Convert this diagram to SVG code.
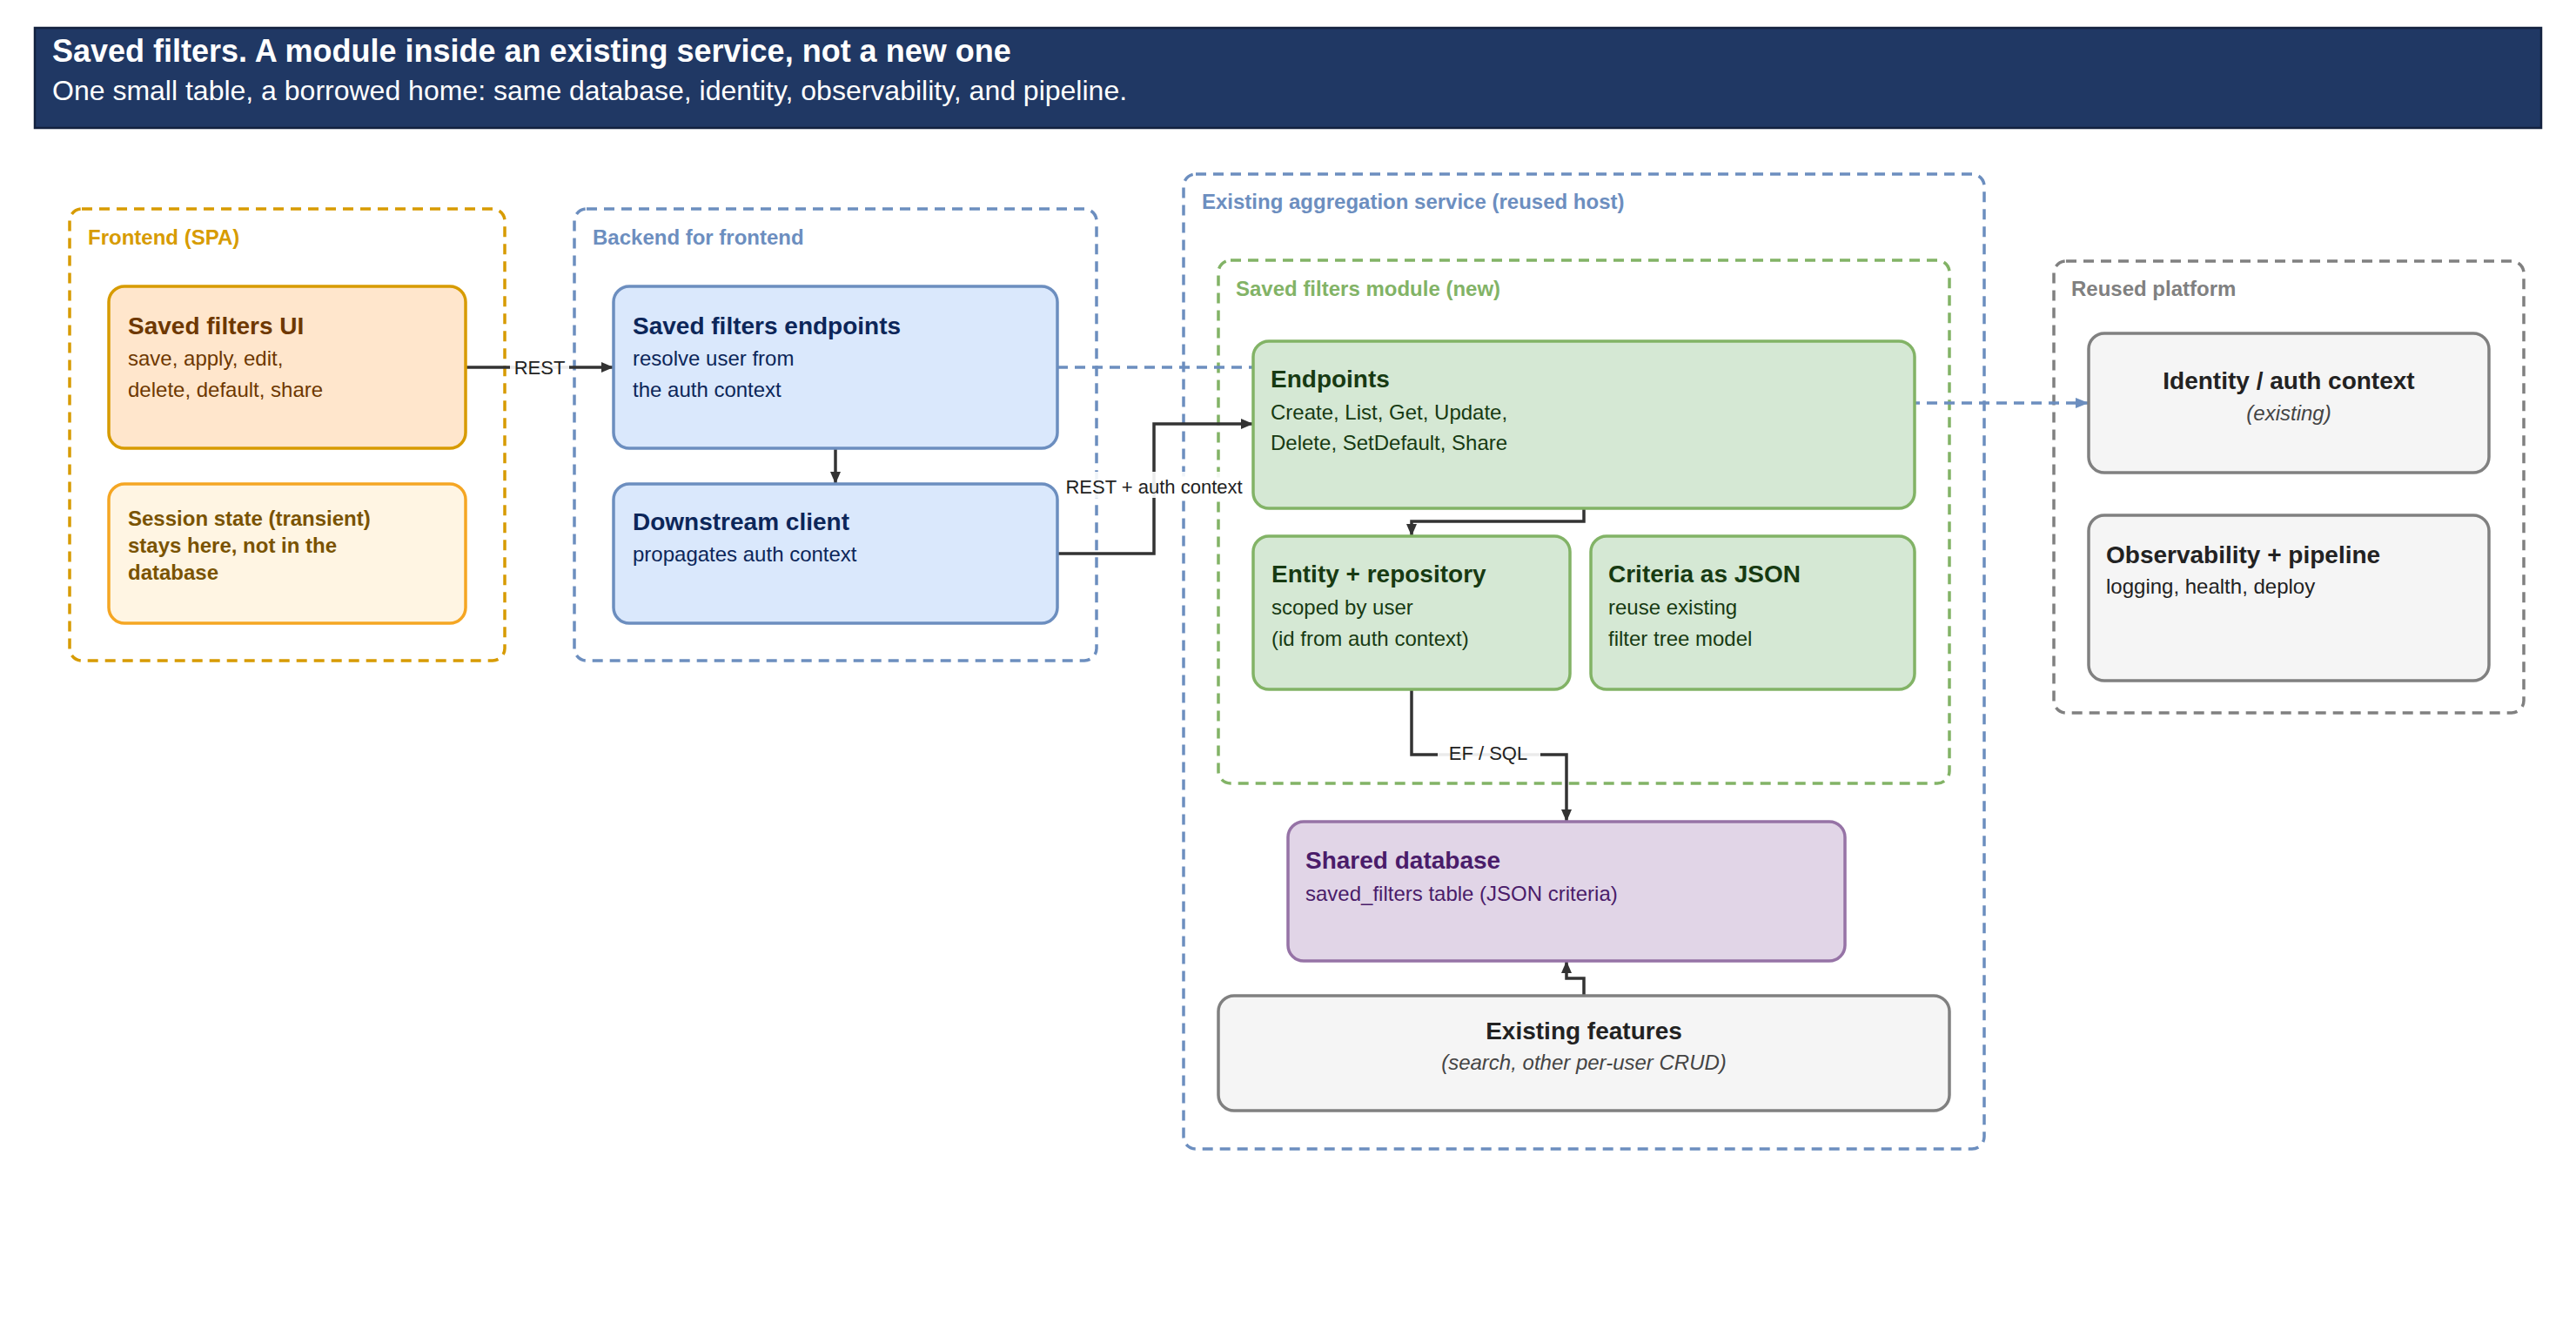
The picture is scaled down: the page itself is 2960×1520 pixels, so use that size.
<svg xmlns="http://www.w3.org/2000/svg" width="2960" height="1520" viewBox="0 0 2960 1520">
<defs>
<style>
text{font-family:"Liberation Sans",Arial,sans-serif}
.grp{fill:none;stroke-width:3.5;stroke-dasharray:12 8}
.glabel{font-size:24px;font-weight:bold}
.box{stroke-width:3.5}
.t{font-size:28px;font-weight:bold}
.b{font-size:24px}
.i{font-size:24px;font-style:italic}
.edge{fill:none;stroke:#333;stroke-width:3.5}
.dedge{fill:none;stroke:#6c8ebf;stroke-width:3.5;stroke-dasharray:12 8}
.elabel{font-size:22px;fill:#222}
.lbg{fill:#fff;fill-opacity:0.9}
</style>
<marker id="ah" viewBox="0 0 14 12" refX="14" refY="6" markerWidth="14" markerHeight="12" markerUnits="userSpaceOnUse" orient="auto"><path d="M0,0 L14,6 L0,12 z" fill="#333"/></marker>
<marker id="ahb" viewBox="0 0 15 12" refX="15" refY="6" markerWidth="15" markerHeight="12" markerUnits="userSpaceOnUse" orient="auto"><path d="M0,0 L15,6 L0,12 z" fill="#6c8ebf"/></marker>
</defs>
<rect width="2960" height="1520" fill="#fff"/>
<g id="banner">
<rect x="40" y="32" width="2880" height="115" fill="#203864" stroke="#13213f" stroke-width="2.5"/>
<text x="60" y="71" font-size="36" font-weight="bold" fill="#fff">Saved filters. A module inside an existing service, not a new one</text>
<text x="60" y="115" font-size="32" fill="#fff">One small table, a borrowed home: same database, identity, observability, and pipeline.</text>
</g>
<g id="containers">
<g id="grp-frontend">
<rect class="grp" x="80" y="240" width="500" height="519" rx="14" stroke="#d79b00"/>
<text class="glabel" x="101" y="281" fill="#d79b00">Frontend (SPA)</text>
</g>
<g id="grp-bff">
<rect class="grp" x="660" y="240" width="600" height="519" rx="14" stroke="#6c8ebf"/>
<text class="glabel" x="681" y="281" fill="#6c8ebf">Backend for frontend</text>
</g>
<g id="grp-aggregation">
<rect class="grp" x="1360" y="200" width="920" height="1120" rx="14" stroke="#6c8ebf"/>
<text class="glabel" x="1381" y="240" fill="#6c8ebf">Existing aggregation service (reused host)</text>
</g>
<g id="grp-module">
<rect class="grp" x="1400" y="299" width="840" height="601" rx="14" stroke="#82b366"/>
<text class="glabel" x="1420" y="340" fill="#82b366">Saved filters module (new)</text>
</g>
<g id="grp-platform">
<rect class="grp" x="2360" y="300" width="540" height="519" rx="14" stroke="#808080"/>
<text class="glabel" x="2380" y="340" fill="#808080">Reused platform</text>
</g>
</g>
<g id="connectors">
<path class="dedge" d="M1215,422 H1820 V463 H2400" marker-end="url(#ahb)"/>
<path class="edge" d="M535,422 H705" marker-end="url(#ah)"/>
<rect class="lbg" x="586" y="410" width="68" height="26"/>
<text class="elabel" x="620" y="430" text-anchor="middle">REST</text>
<path class="edge" d="M960,515 V556" marker-end="url(#ah)"/>
<path class="edge" d="M1215,636 H1326 V487 H1440" marker-end="url(#ah)"/>
<rect class="lbg" x="1218" y="542" width="216" height="30"/>
<text class="elabel" x="1326" y="567" text-anchor="middle">REST + auth context</text>
<path class="edge" d="M1820,584 V599 H1622 V616" marker-end="url(#ah)"/>
<path class="edge" d="M1622,792 V867 H1800 V944" marker-end="url(#ah)"/>
<rect class="lbg" x="1652" y="852" width="118" height="28"/>
<text class="elabel" x="1710" y="873" text-anchor="middle">EF / SQL</text>
<path class="edge" d="M1820,1144 V1124 H1800 V1104" marker-end="url(#ah)"/>
</g>
<g id="node-ui">
<rect class="box" x="125" y="329" width="410" height="186" rx="18" fill="#ffe6cc" stroke="#d79b00"/>
<text class="t" x="147" y="384" fill="#6e3800">Saved filters UI</text>
<text class="b" x="147" y="420" fill="#6e3800">save, apply, edit,</text>
<text class="b" x="147" y="456" fill="#6e3800">delete, default, share</text>
</g>
<g id="node-session">
<rect class="box" x="125" y="556" width="410" height="160" rx="18" fill="#fff5e3" stroke="#f5a623"/>
<text x="147" y="604" font-size="24" font-weight="bold" fill="#7a5300">Session state (transient)</text>
<text x="147" y="635" font-size="24" font-weight="bold" fill="#7a5300">stays here, not in the</text>
<text x="147" y="666" font-size="24" font-weight="bold" fill="#7a5300">database</text>
</g>
<g id="node-bff-endpoints">
<rect class="box" x="705" y="329" width="510" height="186" rx="18" fill="#dae8fc" stroke="#6c8ebf"/>
<text class="t" x="727" y="384" fill="#0c2659">Saved filters endpoints</text>
<text class="b" x="727" y="420" fill="#0c2659">resolve user from</text>
<text class="b" x="727" y="456" fill="#0c2659">the auth context</text>
</g>
<g id="node-downstream">
<rect class="box" x="705" y="556" width="510" height="160" rx="18" fill="#dae8fc" stroke="#6c8ebf"/>
<text class="t" x="727" y="609" fill="#0c2659">Downstream client</text>
<text class="b" x="727" y="645" fill="#0c2659">propagates auth context</text>
</g>
<g id="node-endpoints">
<rect class="box" x="1440" y="392" width="760" height="192" rx="18" fill="#d5e8d4" stroke="#82b366"/>
<text class="t" x="1460" y="445" fill="#173a12">Endpoints</text>
<text class="b" x="1460" y="482" fill="#173a12">Create, List, Get, Update,</text>
<text class="b" x="1460" y="517" fill="#173a12">Delete, SetDefault, Share</text>
</g>
<g id="node-entity">
<rect class="box" x="1440" y="616" width="364" height="176" rx="18" fill="#d5e8d4" stroke="#82b366"/>
<text class="t" x="1461" y="669" fill="#173a12">Entity + repository</text>
<text class="b" x="1461" y="706" fill="#173a12">scoped by user</text>
<text class="b" x="1461" y="742" fill="#173a12">(id from auth context)</text>
</g>
<g id="node-criteria">
<rect class="box" x="1828" y="616" width="372" height="176" rx="18" fill="#d5e8d4" stroke="#82b366"/>
<text class="t" x="1848" y="669" fill="#173a12">Criteria as JSON</text>
<text class="b" x="1848" y="706" fill="#173a12">reuse existing</text>
<text class="b" x="1848" y="742" fill="#173a12">filter tree model</text>
</g>
<g id="node-db">
<rect class="box" x="1480" y="944" width="640" height="160" rx="18" fill="#e1d5e7" stroke="#9673a6"/>
<text class="t" x="1500" y="998" fill="#4a1c6a">Shared database</text>
<text class="b" x="1500" y="1035" fill="#4a1c6a">saved_filters table (JSON criteria)</text>
</g>
<g id="node-existing">
<rect class="box" x="1400" y="1144" width="840" height="132" rx="18" fill="#f5f5f5" stroke="#808080"/>
<text class="t" x="1820" y="1194" text-anchor="middle" fill="#222">Existing features</text>
<text class="i" x="1820" y="1229" text-anchor="middle" fill="#444">(search, other per-user CRUD)</text>
</g>
<g id="node-identity">
<rect class="box" x="2400" y="383" width="460" height="160" rx="18" fill="#f5f5f5" stroke="#808080"/>
<text class="t" x="2630" y="447" text-anchor="middle" fill="#222">Identity / auth context</text>
<text class="i" x="2630" y="483" text-anchor="middle" fill="#444">(existing)</text>
</g>
<g id="node-observability">
<rect class="box" x="2400" y="592" width="460" height="190" rx="18" fill="#f5f5f5" stroke="#808080"/>
<text class="t" x="2420" y="647" fill="#222">Observability + pipeline</text>
<text class="b" x="2420" y="682" fill="#222">logging, health, deploy</text>
</g>
</svg>
